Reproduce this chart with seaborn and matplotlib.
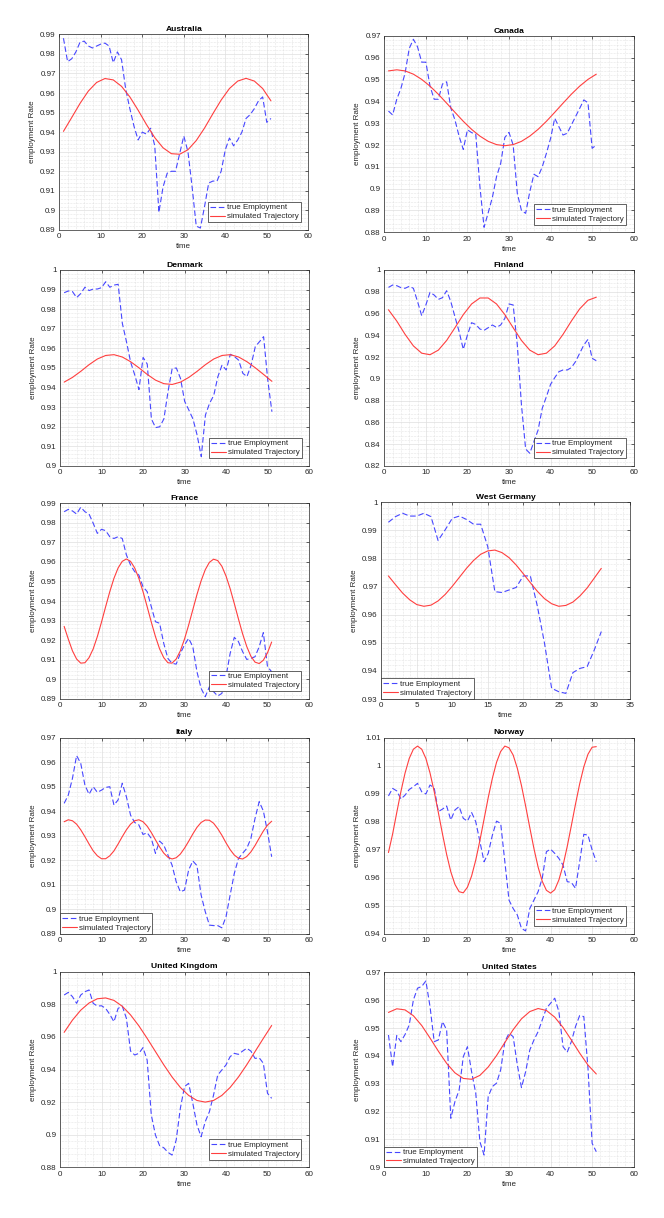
import matplotlib
matplotlib.use("Agg")
import matplotlib.pyplot as plt
from matplotlib.ticker import MultipleLocator, AutoMinorLocator, FuncFormatter
import seaborn as sns

# time index
t51 = list(range(1, 52))
t31 = list(range(1, 32))
t_odd = list(range(1, 52, 2))

# true employment
aus_true = [0.988, 0.976, 0.9775, 0.981, 0.986, 0.9865, 0.984, 0.983, 0.984, 0.985,
            0.9855, 0.984, 0.9755, 0.981, 0.977, 0.962, 0.952, 0.943, 0.936, 0.940,
            0.939, 0.942, 0.933, 0.899, 0.912, 0.919, 0.920, 0.920, 0.929, 0.938,
            0.930, 0.912, 0.892, 0.891, 0.902, 0.914, 0.915, 0.915, 0.920, 0.931,
            0.937, 0.933, 0.936, 0.940, 0.947, 0.949, 0.952, 0.956, 0.958, 0.945, 0.947]
can_true = [0.9356, 0.9338, 0.941, 0.946, 0.953, 0.9643, 0.9685, 0.965, 0.958, 0.958,
            0.947, 0.941, 0.941, 0.948, 0.949, 0.937, 0.9315, 0.924, 0.918, 0.927,
            0.9257, 0.925, 0.901, 0.8823, 0.889, 0.896, 0.9055, 0.9116, 0.9235, 0.9258,
            0.920, 0.8978, 0.890, 0.8887, 0.8986, 0.9066, 0.9055, 0.910, 0.9162, 0.923,
            0.9323, 0.9284, 0.9246, 0.9254, 0.9292, 0.933, 0.9368, 0.9407, 0.9394, 0.9185, 0.920]
den_true = [0.9884, 0.9893, 0.989, 0.9859, 0.988, 0.9912, 0.9895, 0.9903, 0.9903, 0.991,
            0.994, 0.9912, 0.9923, 0.9927, 0.9728, 0.9634, 0.953, 0.9464, 0.939, 0.9554,
            0.952, 0.924, 0.9196, 0.920, 0.924, 0.938, 0.9498, 0.950, 0.9447, 0.933,
            0.9286, 0.924, 0.9158, 0.9048, 0.926, 0.932, 0.936, 0.9456, 0.9515, 0.949,
            0.957, 0.9558, 0.954, 0.9473, 0.9456, 0.9515, 0.9609, 0.9634, 0.966, 0.9439, 0.9277]
fin_true = [0.984, 0.9862, 0.9856, 0.9838, 0.9832, 0.985, 0.9832, 0.971, 0.958, 0.9679,
            0.9795, 0.977, 0.973, 0.9746, 0.981, 0.971, 0.957, 0.9434, 0.9271, 0.9403,
            0.9516, 0.950, 0.9458, 0.9446, 0.947, 0.9495, 0.9473, 0.9495, 0.9556, 0.9688,
            0.9679, 0.9311, 0.876, 0.8356, 0.8317, 0.8424, 0.853, 0.873, 0.8837, 0.895,
            0.9011, 0.9066, 0.9082, 0.9082, 0.9103, 0.9158, 0.9235, 0.9311, 0.9363, 0.9189, 0.9167]
fra_true = [0.9857, 0.9869, 0.9861, 0.9845, 0.988, 0.9857, 0.9845, 0.9798, 0.9746, 0.9767,
            0.976, 0.9729, 0.972, 0.9729, 0.972, 0.9636, 0.9584, 0.955, 0.9533, 0.9473,
            0.9448, 0.9371, 0.9294, 0.9286, 0.9183, 0.9106, 0.9081, 0.9077, 0.9132, 0.9175,
            0.9209, 0.9166, 0.9038, 0.8953, 0.891, 0.8961, 0.8936, 0.8914, 0.8927, 0.9013,
            0.9132, 0.9214, 0.9192, 0.9141, 0.9101, 0.9106, 0.9115, 0.9166, 0.9238, 0.9064, 0.9038]
wg_true = [0.9929, 0.9949, 0.9961, 0.9951, 0.9951, 0.9961, 0.9949, 0.9864, 0.9902, 0.9943,
           0.9951, 0.9939, 0.9922, 0.9922, 0.9842, 0.9682, 0.9679, 0.9688, 0.9697, 0.9738,
           0.9738, 0.9629, 0.9498, 0.9338, 0.9326, 0.932, 0.9394, 0.9409, 0.9415, 0.9474, 0.954]
ita_true = [0.9432, 0.9466, 0.9534, 0.9627, 0.9595, 0.9507, 0.9469, 0.950, 0.9477, 0.9486,
            0.9497, 0.950, 0.9425, 0.9446, 0.9514, 0.9459, 0.9384, 0.9354, 0.9344, 0.9305,
            0.9312, 0.9289, 0.9228, 0.9278, 0.9262, 0.9221, 0.918, 0.9112, 0.9071, 0.9078,
            0.916, 0.9197, 0.9178, 0.9058, 0.899, 0.8935, 0.8933, 0.8933, 0.8924, 0.8969,
            0.9058, 0.9146, 0.9207, 0.9228, 0.9248, 0.9289, 0.9371, 0.9439, 0.9401, 0.9316, 0.9214]
nor_true = [0.9892, 0.9919, 0.991, 0.9881, 0.9895, 0.9915, 0.9925, 0.9937, 0.9907, 0.9899,
            0.9931, 0.9921, 0.9836, 0.9845, 0.9856, 0.9806, 0.9842, 0.9854, 0.9812, 0.9802,
            0.9833, 0.980, 0.9729, 0.9657, 0.9687, 0.9752, 0.9802, 0.9794, 0.9657, 0.952,
            0.949, 0.9467, 0.9419, 0.941, 0.949, 0.952, 0.955, 0.9598, 0.9693, 0.9702,
            0.9687, 0.9669, 0.9645, 0.9586, 0.9583, 0.9562, 0.9657, 0.9755, 0.9752, 0.9699, 0.9657]
uk_true = [0.9857, 0.9873, 0.9847, 0.9806, 0.9857, 0.9877, 0.9888, 0.9806, 0.9789, 0.9791,
           0.9775, 0.9738, 0.9693, 0.9775, 0.9789, 0.9714, 0.9513, 0.9489, 0.9499, 0.9534,
           0.9458, 0.9121, 0.8998, 0.8933, 0.892, 0.8892, 0.8875, 0.8968, 0.9162, 0.9295,
           0.9315, 0.9193, 0.906, 0.8988, 0.908, 0.9141, 0.9243, 0.9366, 0.9397, 0.9428,
           0.9479, 0.9499, 0.9493, 0.9513, 0.953, 0.9513, 0.9468, 0.9472, 0.9438, 0.9254, 0.9223]
us_true = [0.9475, 0.9361, 0.9473, 0.9451, 0.9477, 0.9511, 0.9601, 0.9643, 0.9649, 0.9669,
           0.9577, 0.9451, 0.9457, 0.9523, 0.9493, 0.9176, 0.9236, 0.9277, 0.9397, 0.9433,
           0.9343, 0.9266, 0.9092, 0.9044, 0.9254, 0.929, 0.9302, 0.935, 0.9451, 0.9481,
           0.9469, 0.9368, 0.9286, 0.9343, 0.9421, 0.9457, 0.9487, 0.9529, 0.9571, 0.9589,
           0.9607, 0.9559, 0.9433, 0.9413, 0.9451, 0.9505, 0.9545, 0.9541, 0.9356, 0.9086, 0.9056]

# simulated trajectory
aus_sim = [0.9404, 0.9475, 0.9547, 0.9610, 0.9654, 0.9674, 0.9667, 0.9634, 0.9580, 0.9512,
           0.9439, 0.9372, 0.9320, 0.9290, 0.9287, 0.9310, 0.9357, 0.9421, 0.9494, 0.9564,
           0.9623, 0.9661, 0.9675, 0.9661, 0.9623, 0.9560]
can_sim = [0.9540, 0.9545, 0.9540, 0.9525, 0.9501, 0.9470, 0.9433, 0.9392, 0.9350, 0.9309,
           0.9272, 0.9241, 0.9217, 0.9202, 0.9197, 0.9202, 0.9217, 0.9241, 0.9272, 0.9309,
           0.9350, 0.9392, 0.9433, 0.9470, 0.9501, 0.9525]
den_sim = [0.9428, 0.9452, 0.9483, 0.9517, 0.9546, 0.9564, 0.9568, 0.9556, 0.9532, 0.9501,
           0.9467, 0.9438, 0.9420, 0.9416, 0.9428, 0.9452, 0.9483, 0.9517, 0.9546, 0.9564,
           0.9568, 0.9556, 0.9532, 0.9501, 0.9467, 0.9432]
fin_sim = [0.9635, 0.9531, 0.9409, 0.9303, 0.9236, 0.9222, 0.9264, 0.9353, 0.9470, 0.9590,
           0.9688, 0.9743, 0.9743, 0.9688, 0.9590, 0.9470, 0.9353, 0.9264, 0.9222, 0.9236,
           0.9303, 0.9409, 0.9531, 0.9643, 0.9722, 0.9750]
fra_sim = [0.9270, 0.9205, 0.9145, 0.9103, 0.9082, 0.9084, 0.9110, 0.9155, 0.9218, 0.9292,
           0.9371, 0.9448, 0.9516, 0.9569, 0.9603, 0.9615, 0.9603, 0.9569, 0.9516, 0.9448,
           0.9371, 0.9292, 0.9218, 0.9155, 0.9110, 0.9084, 0.9082, 0.9103, 0.9145, 0.9205,
           0.9277, 0.9355, 0.9433, 0.9503, 0.9560, 0.9598, 0.9614, 0.9607, 0.9578, 0.9528,
           0.9463, 0.9387, 0.9308, 0.9232, 0.9167, 0.9117, 0.9087, 0.9080, 0.9097, 0.9135, 0.9190]
wg_sim = [0.9738, 0.9707, 0.9677, 0.9653, 0.9636, 0.9630, 0.9634, 0.9649, 0.9672, 0.9701,
          0.9733, 0.9765, 0.9793, 0.9815, 0.9827, 0.9830, 0.9821, 0.9803, 0.9777, 0.9746,
          0.9714, 0.9683, 0.9657, 0.9639, 0.9630, 0.9633, 0.9645, 0.9667, 0.9695, 0.9730, 0.9765]
ita_sim = [0.9357, 0.9365, 0.9361, 0.9347, 0.9324, 0.9296, 0.9266, 0.9238, 0.9218, 0.9206,
           0.9206, 0.9218, 0.9238, 0.9266, 0.9296, 0.9324, 0.9347, 0.9361, 0.9365, 0.9357,
           0.9339, 0.9313, 0.9283, 0.9254, 0.9229, 0.9212, 0.9205, 0.9210, 0.9225, 0.9249,
           0.9277, 0.9307, 0.9334, 0.9354, 0.9364, 0.9363, 0.9351, 0.9329, 0.9302, 0.9271,
           0.9243, 0.9221, 0.9208, 0.9205, 0.9215, 0.9234, 0.9260, 0.9290, 0.9319, 0.9343, 0.9359]
nor_sim = [0.9690, 0.9756, 0.9833, 0.9908, 0.9974, 1.0026, 1.0059, 1.0070, 1.0059, 1.0026,
           0.9974, 0.9908, 0.9833, 0.9756, 0.9683, 0.9621, 0.9576, 0.9550, 0.9546, 0.9566,
           0.9606, 0.9663, 0.9733, 0.9809, 0.9886, 0.9955, 1.0012, 1.0051, 1.0070, 1.0064,
           1.0038, 0.9991, 0.9929, 0.9856, 0.9779, 0.9704, 0.9638, 0.9587, 0.9555, 0.9545,
           0.9557, 0.9592, 0.9644, 0.9711, 0.9786, 0.9863, 0.9935, 0.9996, 1.0041, 1.0066, 1.0068]
uk_sim = [0.9628, 0.9703, 0.9764, 0.9808, 0.9834, 0.9839, 0.9824, 0.9788, 0.9735, 0.9668,
          0.9591, 0.9510, 0.9429, 0.9354, 0.9290, 0.9241, 0.9210, 0.9200, 0.9210, 0.9241,
          0.9290, 0.9354, 0.9429, 0.9510, 0.9591, 0.9670]
us_sim = [0.9556, 0.9569, 0.9565, 0.9544, 0.9509, 0.9464, 0.9417, 0.9373, 0.9339, 0.9319,
          0.9316, 0.9330, 0.9360, 0.9401, 0.9448, 0.9494, 0.9533, 0.9559, 0.9570, 0.9563,
          0.9539, 0.9502, 0.9457, 0.9410, 0.9367, 0.9335]

# style
sns.set_style("white")
plt.rcParams['font.family'] = ['Liberation Sans', 'DejaVu Sans']
FS = 5.8
BLUE = '#4747ff'
RED = '#ff3f3f'
EDGE = '#262626'

# (title, true, x_true, sim, x_sim, ylim, ystep, xmax, xstep, legend loc, box px l/t/r/b)
panels = [
    ("Australia", aus_true, t51, aus_sim, t_odd, (0.89, 0.99), 0.01, 60, 10, "lower right", (59.3, 34.3, 308.3, 230)),
    ("Canada", can_true, t51, can_sim, t_odd, (0.88, 0.97), 0.01, 60, 10, "lower right", (384.3, 36, 633.7, 232.3)),
    ("Denmark", den_true, t51, den_sim, t_odd, (0.90, 1.00), 0.01, 60, 10, "lower right", (60, 270, 309.3, 466)),
    ("Finland", fin_true, t51, fin_sim, t_odd, (0.82, 1.00), 0.02, 60, 10, "lower right", (384.3, 270, 633.7, 466)),
    ("France", fra_true, t51, fra_sim, t51, (0.89, 0.99), 0.01, 60, 10, "lower right", (60, 503.3, 309, 698.7)),
    ("West Germany", wg_true, t31, wg_sim, t31, (0.93, 1.00), 0.01, 35, 5, "lower left", (381.3, 502.3, 629.7, 699)),
    ("Italy", ita_true, t51, ita_sim, t51, (0.89, 0.97), 0.01, 60, 10, "lower left", (60, 737.7, 309, 933.7)),
    ("Norway", nor_true, t51, nor_sim, t51, (0.94, 1.01), 0.01, 60, 10, "lower right", (384.3, 737.7, 633.7, 933.7)),
    ("United Kingdom", uk_true, t51, uk_sim, t_odd, (0.88, 1.00), 0.02, 60, 10, "lower right", (60, 971.7, 309, 1167.3)),
    ("United States", us_true, t51, us_sim, t_odd, (0.90, 0.97), 0.01, 60, 10, "lower left", (384.3, 972.3, 633.7, 1167.3)),
]

W, H = 664, 1218
fig = plt.figure(figsize=(W / 100, H / 100), dpi=100)

ytick_fmt = FuncFormatter(lambda v, p: f"{round(v, 3):g}")

for title, y_true, x_true, y_sim, x_sim, ylim, ystep, xmax, xstep, loc, box in panels:
    l, t, r, b = box
    ax = fig.add_axes([l / W, 1 - b / H, (r - l) / W, (b - t) / H])

    sns.lineplot(x=x_true, y=y_true, ax=ax, color=BLUE, lw=0.8,
                 linestyle=(0, (5, 2.5)), label="true Employment")
    sns.lineplot(x=x_sim, y=y_sim, ax=ax, color=RED, lw=0.8,
                 label="simulated Trajectory")

    ax.set_xlim(0, xmax)
    ax.set_ylim(*ylim)
    ax.xaxis.set_major_locator(MultipleLocator(xstep))
    ax.yaxis.set_major_locator(MultipleLocator(ystep))
    ax.xaxis.set_minor_locator(AutoMinorLocator(5))
    ax.yaxis.set_minor_locator(AutoMinorLocator(5))
    ax.yaxis.set_major_formatter(ytick_fmt)

    ax.grid(which='major', color='#dedede', lw=0.5, ls='-')
    ax.grid(which='minor', color='#cfcfcf', lw=0.4, ls=':')
    ax.set_axisbelow(True)

    for sp in ax.spines.values():
        sp.set_color(EDGE)
        sp.set_linewidth(0.5)
    ax.tick_params(which='major', direction='in', length=2.5, width=0.5,
                   colors=EDGE, labelsize=FS, top=True, right=True, pad=2.5)
    ax.tick_params(which='minor', length=0)

    ax.set_title(title, fontsize=FS + 0.3, fontweight='bold', pad=2.5, color='black')
    ax.set_xlabel("time", fontsize=FS, labelpad=2, color=EDGE)
    ax.set_ylabel("employment Rate", fontsize=FS, labelpad=3, color=EDGE)

    pad = 0.95 if loc == "lower right" else 0.0
    leg = ax.legend(loc=loc, fontsize=FS, frameon=True, fancybox=False,
                    framealpha=1, edgecolor=EDGE, borderaxespad=pad,
                    handlelength=1.8, handletextpad=0.25, borderpad=0.25,
                    labelspacing=0.15)
    leg.get_frame().set_linewidth(0.5)

fig.savefig("out.png", dpi=100)
